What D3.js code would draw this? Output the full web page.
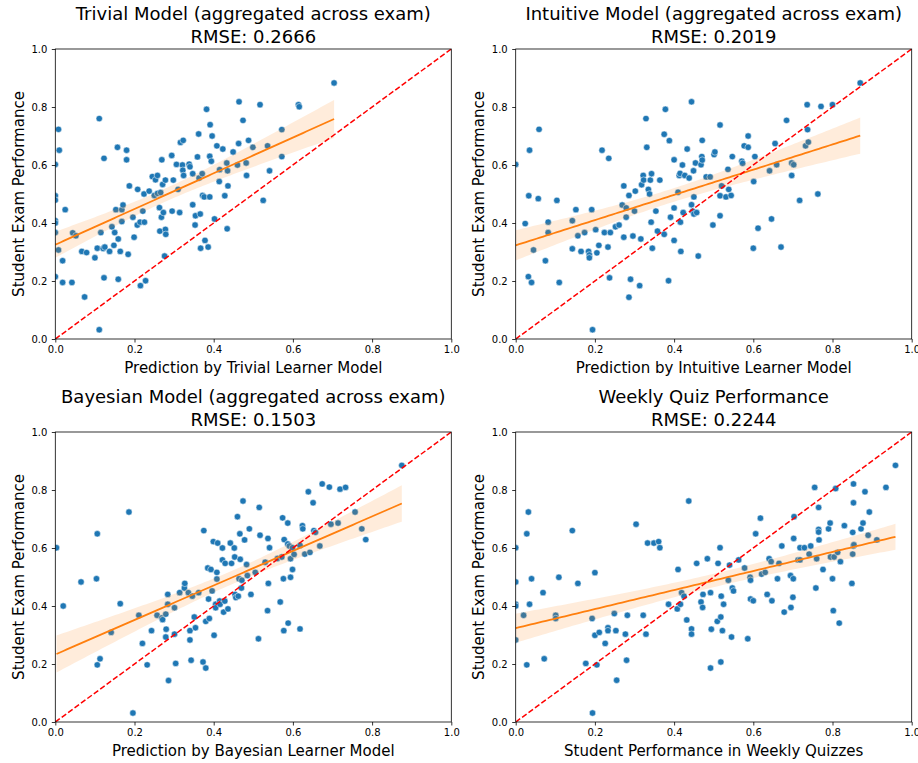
<!DOCTYPE html>
<html>
<head>
<meta charset="utf-8">
<script src="https://cdn.jsdelivr.net/npm/d3@7"></script>
<style>
  html, body { margin: 0; padding: 0; background: #fff; }
  svg text { font-family: "DejaVu Sans", sans-serif; fill: #000; }
</style>
</head>
<body>
<svg id="chart" width="918" height="763"></svg>
<script>
// ---------------- data ----------------
const titles = [
  "Trivial Model (aggregated across exam)",
  "Intuitive Model (aggregated across exam)",
  "Bayesian Model (aggregated across exam)",
  "Weekly Quiz Performance"
];
const rmse = ["0.2666", "0.2019", "0.1503", "0.2244"];
const xLabels = [
  "Prediction by Trivial Learner Model",
  "Prediction by Intuitive Learner Model",
  "Prediction by Bayesian Learner Model",
  "Student Performance in Weekly Quizzes"
];
const yLabel = "Student Exam Performance";
const tickValues = [0, 0.2, 0.4, 0.6, 0.8, 1.0];

const trivialPoints = [[0.111,0.760],[0.008,0.723],[0.010,0.651],[0.0,0.602],[0.0,0.494],[0.0,0.479],[0.025,0.446],[0.0,0.408],[0.0,0.400],[0.0,0.367],[0.008,0.307],[0.0185,0.270],[0.0,0.215],[0.0185,0.195],[0.042,0.195],[0.074,0.145],[0.111,0.032],[0.044,0.366],[0.052,0.356],[0.067,0.302],[0.079,0.298],[0.100,0.280],[0.106,0.313],[0.115,0.367],[0.121,0.312],[0.125,0.317],[0.123,0.623],[0.123,0.211],[0.137,0.302],[0.143,0.387],[0.148,0.323],[0.150,0.367],[0.153,0.446],[0.157,0.661],[0.159,0.345],[0.159,0.206],[0.164,0.302],[0.168,0.405],[0.168,0.446],[0.171,0.462],[0.180,0.651],[0.180,0.618],[0.184,0.292],[0.187,0.528],[0.196,0.420],[0.199,0.351],[0.208,0.516],[0.207,0.393],[0.215,0.184],[0.221,0.441],[0.214,0.403],[0.225,0.403],[0.224,0.500],[0.228,0.201],[0.237,0.510],[0.245,0.560],[0.250,0.495],[0.253,0.549],[0.258,0.564],[0.258,0.502],[0.263,0.453],[0.264,0.372],[0.266,0.505],[0.269,0.618],[0.268,0.420],[0.271,0.533],[0.273,0.436],[0.278,0.548],[0.278,0.378],[0.279,0.361],[0.276,0.286],[0.294,0.633],[0.298,0.548],[0.295,0.441],[0.306,0.602],[0.310,0.516],[0.314,0.436],[0.316,0.678],[0.321,0.600],[0.323,0.685],[0.322,0.582],[0.324,0.564],[0.338,0.603],[0.340,0.594],[0.347,0.463],[0.347,0.570],[0.353,0.393],[0.354,0.425],[0.359,0.628],[0.362,0.707],[0.363,0.555],[0.366,0.431],[0.367,0.313],[0.371,0.570],[0.372,0.495],[0.376,0.490],[0.378,0.340],[0.382,0.792],[0.386,0.317],[0.390,0.490],[0.391,0.739],[0.390,0.630],[0.394,0.613],[0.396,0.700],[0.402,0.414],[0.408,0.666],[0.415,0.584],[0.414,0.543],[0.423,0.655],[0.428,0.494],[0.433,0.607],[0.434,0.380],[0.435,0.580],[0.436,0.528],[0.449,0.645],[0.460,0.600],[0.463,0.674],[0.464,0.818],[0.474,0.754],[0.482,0.607],[0.483,0.564],[0.488,0.685],[0.499,0.661],[0.517,0.808],[0.536,0.666],[0.541,0.580],[0.525,0.478],[0.572,0.629],[0.572,0.722],[0.614,0.808],[0.616,0.801],[0.704,0.883]];

const intuitivePoints = [[0.0,0.602],[0.059,0.723],[0.035,0.651],[0.033,0.494],[0.057,0.484],[0.024,0.398],[0.082,0.403],[0.082,0.367],[0.045,0.307],[0.075,0.270],[0.032,0.215],[0.040,0.195],[0.104,0.478],[0.110,0.195],[0.143,0.408],[0.152,0.446],[0.143,0.311],[0.157,0.356],[0.165,0.302],[0.174,0.367],[0.184,0.302],[0.186,0.290],[0.186,0.280],[0.192,0.446],[0.194,0.032],[0.202,0.377],[0.205,0.297],[0.210,0.323],[0.218,0.651],[0.224,0.367],[0.235,0.623],[0.233,0.317],[0.237,0.211],[0.239,0.367],[0.252,0.387],[0.261,0.393],[0.269,0.462],[0.273,0.528],[0.273,0.351],[0.279,0.420],[0.279,0.452],[0.286,0.495],[0.286,0.144],[0.290,0.206],[0.296,0.355],[0.300,0.441],[0.302,0.510],[0.313,0.184],[0.316,0.345],[0.318,0.532],[0.322,0.564],[0.323,0.548],[0.329,0.760],[0.331,0.661],[0.335,0.516],[0.338,0.500],[0.340,0.548],[0.342,0.403],[0.343,0.570],[0.345,0.313],[0.354,0.441],[0.358,0.372],[0.364,0.548],[0.375,0.361],[0.375,0.706],[0.378,0.792],[0.386,0.201],[0.388,0.684],[0.391,0.420],[0.400,0.618],[0.400,0.452],[0.400,0.340],[0.410,0.506],[0.413,0.564],[0.415,0.571],[0.416,0.403],[0.417,0.302],[0.421,0.600],[0.423,0.436],[0.427,0.564],[0.433,0.655],[0.438,0.555],[0.444,0.463],[0.444,0.818],[0.447,0.441],[0.449,0.580],[0.450,0.490],[0.450,0.431],[0.454,0.607],[0.457,0.436],[0.461,0.286],[0.468,0.601],[0.470,0.629],[0.471,0.617],[0.471,0.685],[0.481,0.559],[0.491,0.559],[0.498,0.393],[0.501,0.636],[0.503,0.645],[0.516,0.738],[0.516,0.494],[0.516,0.425],[0.520,0.528],[0.531,0.490],[0.536,0.585],[0.538,0.516],[0.544,0.495],[0.547,0.629],[0.571,0.613],[0.573,0.606],[0.577,0.666],[0.587,0.661],[0.587,0.700],[0.601,0.543],[0.604,0.629],[0.600,0.313],[0.612,0.382],[0.641,0.580],[0.646,0.414],[0.655,0.674],[0.659,0.601],[0.670,0.317],[0.684,0.754],[0.697,0.607],[0.702,0.601],[0.697,0.564],[0.717,0.478],[0.732,0.666],[0.739,0.679],[0.736,0.808],[0.737,0.722],[0.763,0.500],[0.771,0.802],[0.800,0.808],[0.870,0.883]];

const bayesianPoints = [[0.003,0.601],[0.020,0.400],[0.065,0.483],[0.104,0.494],[0.106,0.649],[0.106,0.197],[0.113,0.218],[0.141,0.309],[0.164,0.408],[0.186,0.724],[0.196,0.031],[0.211,0.368],[0.220,0.271],[0.232,0.197],[0.243,0.315],[0.257,0.368],[0.269,0.359],[0.271,0.353],[0.279,0.372],[0.280,0.320],[0.279,0.293],[0.284,0.440],[0.284,0.406],[0.286,0.143],[0.301,0.303],[0.301,0.394],[0.304,0.202],[0.314,0.446],[0.326,0.462],[0.327,0.478],[0.336,0.446],[0.340,0.315],[0.340,0.283],[0.343,0.213],[0.346,0.434],[0.351,0.362],[0.354,0.325],[0.362,0.446],[0.373,0.207],[0.375,0.660],[0.380,0.347],[0.380,0.186],[0.385,0.531],[0.387,0.424],[0.389,0.357],[0.393,0.526],[0.396,0.452],[0.399,0.622],[0.401,0.299],[0.405,0.406],[0.405,0.394],[0.408,0.493],[0.408,0.516],[0.410,0.617],[0.415,0.417],[0.416,0.406],[0.422,0.600],[0.422,0.559],[0.425,0.379],[0.428,0.417],[0.429,0.547],[0.436,0.390],[0.442,0.617],[0.445,0.547],[0.452,0.600],[0.453,0.569],[0.454,0.440],[0.456,0.429],[0.460,0.708],[0.462,0.434],[0.464,0.494],[0.466,0.649],[0.467,0.561],[0.471,0.489],[0.470,0.462],[0.474,0.762],[0.478,0.628],[0.483,0.543],[0.485,0.505],[0.490,0.666],[0.494,0.440],[0.505,0.516],[0.513,0.287],[0.515,0.740],[0.517,0.644],[0.530,0.551],[0.537,0.633],[0.541,0.601],[0.538,0.478],[0.536,0.384],[0.568,0.414],[0.574,0.704],[0.587,0.686],[0.578,0.629],[0.587,0.614],[0.591,0.607],[0.561,0.564],[0.572,0.569],[0.576,0.494],[0.594,0.563],[0.599,0.601],[0.603,0.578],[0.599,0.526],[0.594,0.499],[0.588,0.341],[0.577,0.315],[0.618,0.321],[0.618,0.609],[0.624,0.677],[0.625,0.666],[0.630,0.579],[0.643,0.585],[0.639,0.794],[0.651,0.756],[0.653,0.660],[0.657,0.654],[0.668,0.607],[0.674,0.821],[0.692,0.810],[0.696,0.682],[0.714,0.686],[0.719,0.803],[0.733,0.809],[0.757,0.724],[0.774,0.666],[0.784,0.629],[0.875,0.885]];

const quizPoints = [[0.0,0.601],[0.0,0.483],[0.0,0.406],[0.0,0.400],[0.0,0.283],[0.032,0.724],[0.028,0.649],[0.040,0.494],[0.035,0.406],[0.020,0.368],[0.028,0.197],[0.069,0.446],[0.072,0.218],[0.101,0.368],[0.101,0.357],[0.109,0.499],[0.143,0.660],[0.157,0.478],[0.177,0.202],[0.193,0.357],[0.200,0.515],[0.200,0.299],[0.194,0.031],[0.205,0.197],[0.211,0.309],[0.226,0.271],[0.233,0.325],[0.233,0.315],[0.249,0.374],[0.253,0.315],[0.255,0.144],[0.277,0.303],[0.282,0.368],[0.280,0.213],[0.304,0.682],[0.322,0.368],[0.329,0.303],[0.333,0.617],[0.349,0.617],[0.361,0.622],[0.364,0.601],[0.386,0.406],[0.408,0.390],[0.410,0.526],[0.416,0.406],[0.419,0.446],[0.425,0.434],[0.432,0.352],[0.437,0.762],[0.444,0.321],[0.444,0.303],[0.457,0.547],[0.468,0.414],[0.472,0.395],[0.473,0.440],[0.484,0.563],[0.492,0.446],[0.494,0.320],[0.492,0.186],[0.511,0.547],[0.509,0.347],[0.516,0.601],[0.519,0.434],[0.525,0.406],[0.518,0.362],[0.522,0.315],[0.518,0.207],[0.537,0.489],[0.540,0.541],[0.545,0.293],[0.547,0.462],[0.550,0.452],[0.563,0.559],[0.578,0.531],[0.586,0.287],[0.592,0.499],[0.593,0.489],[0.593,0.424],[0.600,0.418],[0.606,0.649],[0.618,0.703],[0.621,0.510],[0.630,0.516],[0.635,0.440],[0.640,0.563],[0.645,0.553],[0.647,0.418],[0.661,0.494],[0.665,0.547],[0.672,0.607],[0.678,0.379],[0.694,0.505],[0.701,0.494],[0.695,0.395],[0.700,0.430],[0.702,0.633],[0.703,0.708],[0.713,0.559],[0.718,0.559],[0.718,0.601],[0.729,0.601],[0.745,0.607],[0.741,0.579],[0.755,0.809],[0.758,0.462],[0.760,0.563],[0.765,0.740],[0.765,0.664],[0.765,0.655],[0.766,0.628],[0.776,0.526],[0.790,0.666],[0.794,0.686],[0.795,0.569],[0.804,0.569],[0.800,0.494],[0.802,0.384],[0.808,0.805],[0.813,0.585],[0.817,0.341],[0.820,0.553],[0.830,0.677],[0.849,0.478],[0.851,0.654],[0.851,0.579],[0.853,0.607],[0.854,0.611],[0.853,0.821],[0.853,0.756],[0.872,0.666],[0.877,0.686],[0.882,0.794],[0.890,0.644],[0.893,0.724],[0.912,0.628],[0.935,0.809],[0.959,0.885]];

const panelPoints = [trivialPoints, intuitivePoints, bayesianPoints, quizPoints];

// ---------------- layout ----------------
const W = 396, H = 290;
const origins = [[55.3, 49], [515.7, 49], [55.3, 432], [515.7, 432]];
const svg = d3.select("#chart");

const x = d3.scaleLinear().domain([0, 1]).range([0, W]);
const y = d3.scaleLinear().domain([0, 1]).range([H, 0]);

function fit(pts) {
  const n = pts.length;
  const mx = d3.mean(pts, d => d[0]), my = d3.mean(pts, d => d[1]);
  let sxx = 0, sxy = 0;
  pts.forEach(d => { sxx += (d[0]-mx)**2; sxy += (d[0]-mx)*(d[1]-my); });
  const b = sxy / sxx, a = my - b*mx;
  let sse = 0;
  pts.forEach(d => { sse += (d[1] - a - b*d[0])**2; });
  const s = Math.sqrt(sse / (n - 2));
  const t = 1.98;
  const x0 = d3.min(pts, d => d[0]), x1 = d3.max(pts, d => d[0]);
  const grid = d3.range(0, 101).map(i => x0 + (x1 - x0) * i / 100);
  return grid.map(g => {
    const yh = a + b*g;
    const se = s * Math.sqrt(1/n + (g-mx)**2 / sxx);
    return {x: g, y: yh, lo: yh - t*se, hi: yh + t*se};
  });
}

panelPoints.forEach((pts, i) => {
  const [ox, oy] = origins[i];
  const g = svg.append("g").attr("transform", `translate(${ox},${oy})`);
  const clip = "clip" + i;
  g.append("clipPath").attr("id", clip).append("rect").attr("width", W).attr("height", H);
  const inner = g.append("g").attr("clip-path", `url(#${clip})`);

  // points
  inner.selectAll("circle").data(pts).join("circle")
    .attr("cx", d => x(d[0])).attr("cy", d => y(d[1])).attr("r", 3.2)
    .attr("fill", "#1f77b4").attr("stroke", "#fff").attr("stroke-width", 0.5);

  // regression + CI
  const f = fit(pts);
  inner.append("path").datum(f)
    .attr("d", d3.area().x(d => x(d.x)).y0(d => y(d.lo)).y1(d => y(d.hi)))
    .attr("fill", "#ff7f0e").attr("fill-opacity", 0.15);
  inner.append("path").datum(f)
    .attr("d", d3.line().x(d => x(d.x)).y(d => y(d.y)))
    .attr("fill", "none").attr("stroke", "#ff7f0e").attr("stroke-width", 1.8);

  // identity line
  inner.append("path").datum([[0,0],[1,1]])
    .attr("d", d3.line().x(d => x(d[0])).y(d => y(d[1])))
    .attr("fill", "none").attr("stroke", "#ff0000").attr("stroke-width", 1.5)
    .attr("stroke-dasharray", "5.55,2.4");

  // axes
  const fmt = d3.format(".1f");
  const xa = g.append("g").attr("transform", `translate(0,${H})`)
    .call(d3.axisBottom(x).tickValues(tickValues).tickFormat(fmt).tickSize(3.5).tickPadding(3.5).tickSizeOuter(0));
  const ya = g.append("g")
    .call(d3.axisLeft(y).tickValues(tickValues).tickFormat(fmt).tickSize(3.5).tickPadding(4.5).tickSizeOuter(0));
  [xa, ya].forEach(a => {
    a.select(".domain").remove();
    a.selectAll("line").attr("stroke", "#000").attr("stroke-width", 0.8);
    a.selectAll("text").attr("font-size", 10).attr("font-family", "DejaVu Sans").attr("fill", "#000");
  });

  // spines
  g.append("rect").attr("width", W).attr("height", H)
    .attr("fill", "none").attr("stroke", "#000").attr("stroke-width", 0.8);

  // titles
  g.append("text").attr("x", W/2).attr("y", -29.5).attr("text-anchor", "middle")
    .attr("font-size", 18).text(titles[i]);
  g.append("text").attr("x", W/2).attr("y", -6.3).attr("text-anchor", "middle")
    .attr("font-size", 18).text("RMSE: " + rmse[i]);

  // axis labels
  g.append("text").attr("x", W/2).attr("y", H + 34).attr("text-anchor", "middle")
    .attr("font-size", 15).text(xLabels[i]);
  g.append("text").attr("transform", `translate(-31.5,${H/2}) rotate(-90)`)
    .attr("text-anchor", "middle").attr("font-size", 15).text(yLabel);
});
</script>
</body>
</html>
